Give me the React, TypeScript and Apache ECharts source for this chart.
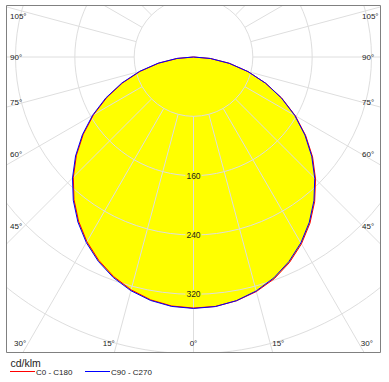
import React, { useEffect, useRef } from "react";
import * as echarts from "echarts";

// Photometric data (cd/klm) by gamma angle
const gamma = [0, 5, 10, 15, 20, 25, 30, 35, 40, 45, 50, 55, 60, 65, 70, 75, 80, 85, 90];
const c0 = [338.5, 337.6, 333.8, 327.4, 318.2, 305.9, 291.0, 273.7, 254.2, 232.7, 209.6, 184.6, 158.6, 131.4, 103.8, 76.2, 49.0, 22.8, 0];
const c180 = [338.5, 337.0, 332.5, 325.0, 315.0, 302.4, 287.5, 270.2, 250.7, 229.2, 206.1, 181.4, 155.6, 128.8, 101.6, 74.2, 47.4, 21.8, 0];
const c90 = [339, 337.8, 333.6, 326.6, 316.9, 304.4, 289.5, 272.2, 252.7, 231.2, 208.1, 183.4, 157.6, 130.8, 103.4, 76.0, 48.9, 22.8, 0];
const c270 = [339, 337.6, 333.3, 326.2, 316.4, 303.9, 289.0, 271.7, 252.2, 230.7, 207.6, 182.9, 157.1, 130.3, 103.0, 75.6, 48.6, 22.6, 0];

const gridRadii = [80, 160, 240, 320, 400, 480];
const radiusLabels = [160, 240, 320];
const spokeAngles = [-165, -150, -135, -120, -105, -90, -75, -60, -45, -30, -15, 0, 15, 30, 45, 60, 75, 90, 105, 120, 135, 150, 165, 180];
const angleLabels = [0, 15, 30, 45, 60, 75, 90, 105];
const legendNames = ["C0 - C180", "C90 - C270"];
const unitLabel = "cd/klm";

const RED = "#ff0000";
const BLUE = "#0000ff";
const GRID = "#dedede";
const TEXT = "#222222";
const FONT = '"Liberation Sans", Arial, sans-serif';

// left half uses +gamma, right half uses -gamma on the angle axis
function curve(left: number[], right: number[]) {
  const pts: number[][] = [];
  for (let i = gamma.length - 1; i >= 0; i--) pts.push([left[i], gamma[i]]);
  for (let i = 1; i < gamma.length; i++) pts.push([right[i], -gamma[i]]);
  return pts;
}
const fillLeft = c180.map((v, i) => Math.max(v, c270[i]));
const fillRight = c0.map((v, i) => Math.max(v, c90[i]));

// label anchor geometry in chart-box coordinates
const XL = 18, XR = 357, YB = 338.3, LABEL_LEFT = 4, LABEL_RIGHT = 356, MIN_Y = 11.3;

export default function App() {
  const refA = useRef<HTMLDivElement>(null);
  const refB = useRef<HTMLDivElement>(null);

  useEffect(() => {
    const a = echarts.init(refA.current!, undefined, { renderer: "svg" });
    const b = echarts.init(refB.current!, undefined, { renderer: "svg" });

    a.setOption({
      animation: false,
      polar: { center: [187.5, 52], radius: 356 },
      radiusAxis: { type: "value", min: 0, max: 480, show: false },
      angleAxis: { type: "value", min: -180, max: 180, startAngle: 90, clockwise: true, show: false },
      series: [
        {
          type: "line",
          coordinateSystem: "polar",
          data: curve(fillLeft, fillRight),
          symbol: "none",
          lineStyle: { width: 0, opacity: 0 },
          areaStyle: { color: "#ffff00", opacity: 1 },
          z: 1,
          silent: true,
        },
        {
          type: "custom",
          coordinateSystem: "polar",
          data: gridRadii.map((r) => [r, 0]),
          z: 2,
          silent: true,
          renderItem: (_p: any, api: any) => {
            const c = api.coord([0, 0]);
            const p = api.coord([api.value(0), 0]);
            const r = Math.hypot(p[0] - c[0], p[1] - c[1]);
            return {
              type: "circle",
              shape: { cx: c[0], cy: c[1], r },
              style: { fill: "none", stroke: GRID, lineWidth: 1 },
            };
          },
        },
        {
          type: "custom",
          coordinateSystem: "polar",
          data: spokeAngles.map((ang) => [80, ang]),
          z: 2,
          silent: true,
          renderItem: (_p: any, api: any) => {
            const ang = api.value(1);
            const p = api.coord([api.value(0), ang]);
            const q = api.coord([1000, ang]);
            return {
              type: "line",
              shape: { x1: p[0], y1: p[1], x2: q[0], y2: q[1] },
              style: { stroke: GRID, lineWidth: 1 },
            };
          },
        },
        {
          type: "custom",
          coordinateSystem: "polar",
          data: radiusLabels.map((r) => [r, 0]),
          z: 3,
          silent: true,
          renderItem: (_p: any, api: any) => {
            const p = api.coord([api.value(0), 0]);
            return {
              type: "text",
              x: p[0],
              y: p[1],
              style: {
                text: String(api.value(0)),
                fill: TEXT,
                font: `8.5px ${FONT}`,
                align: "center",
                verticalAlign: "middle",
                backgroundColor: "#ffff00",
                padding: [0, 1],
              },
            };
          },
        },
        {
          type: "line",
          name: legendNames[0],
          coordinateSystem: "polar",
          data: curve(c180, c0),
          symbol: "none",
          lineStyle: { color: RED, width: 1 },
          z: 4,
          silent: true,
        },
        {
          type: "line",
          name: legendNames[1],
          coordinateSystem: "polar",
          data: curve(c270, c90),
          symbol: "none",
          lineStyle: { color: BLUE, width: 1 },
          z: 5,
          silent: true,
        },
        {
          type: "custom",
          coordinateSystem: "polar",
          data: angleLabels.map((ang) => [0, ang]),
          z: 6,
          silent: true,
          renderItem: (_p: any, api: any) => {
            const th = api.value(1);
            const sides = th === 0 ? [1] : [1, -1];
            const children: any[] = [];
            for (const s of sides) {
              const c = api.coord([0, s * th]);
              const p = api.coord([100, s * th]);
              const len = Math.hypot(p[0] - c[0], p[1] - c[1]);
              const dx = (p[0] - c[0]) / len;
              const dy = (p[1] - c[1]) / len;
              const tSide = Math.abs(dx) < 1e-6 ? Infinity : dx < 0 ? (XL - c[0]) / dx : (XR - c[0]) / dx;
              const tBottom = dy > 1e-6 ? (YB - c[1]) / dy : Infinity;
              const style: any = { text: `${th}°`, fill: TEXT, font: `8px ${FONT}`, verticalAlign: "middle" };
              let x: number, y: number;
              if (tBottom <= tSide) {
                const bx = c[0] + tBottom * dx;
                y = YB;
                if (Math.abs(dx) < 1e-6) { x = bx; style.align = "center"; }
                else if (dx < 0) { x = bx - 2; style.align = "right"; }
                else { x = bx + 2; style.align = "left"; }
              } else {
                y = Math.max(MIN_Y, c[1] + tSide * dy);
                x = dx < 0 ? LABEL_LEFT : LABEL_RIGHT;
                style.align = "left";
              }
              children.push({ type: "text", x, y, style });
            }
            return { type: "group", children };
          },
        },
      ],
      graphic: [
        {
          type: "rect",
          z: 100,
          silent: true,
          shape: { x: 0.5, y: 0.5, width: 374, height: 347 },
          style: { fill: "none", stroke: "#808080", lineWidth: 1 },
        },
      ],
    });

    b.setOption({
      animation: false,
      graphic: [
        { type: "text", x: 10.5, y: 363, style: { text: unitLabel, fill: TEXT, font: `10.5px ${FONT}`, verticalAlign: "middle" } },
        { type: "line", shape: { x1: 10, y1: 371.5, x2: 35, y2: 371.5 }, style: { stroke: RED, lineWidth: 1 } },
        { type: "text", x: 36, y: 372, style: { text: legendNames[0], fill: TEXT, font: `8px ${FONT}`, verticalAlign: "middle" } },
        { type: "line", shape: { x1: 85, y1: 371.5, x2: 110, y2: 371.5 }, style: { stroke: BLUE, lineWidth: 1 } },
        { type: "text", x: 111, y: 372, style: { text: legendNames[1], fill: TEXT, font: `8px ${FONT}`, verticalAlign: "middle" } },
      ],
    });

    return () => {
      a.dispose();
      b.dispose();
    };
  }, []);

  return (
    <div style={{ position: "absolute", left: 0, top: 0, width: 389, height: 382, background: "#fff" }}>
      <div ref={refB} style={{ position: "absolute", left: 0, top: 0, width: 389, height: 382 }} />
      <div ref={refA} style={{ position: "absolute", left: 6, top: 5, width: 375, height: 348, overflow: "hidden" }} />
    </div>
  );
}
